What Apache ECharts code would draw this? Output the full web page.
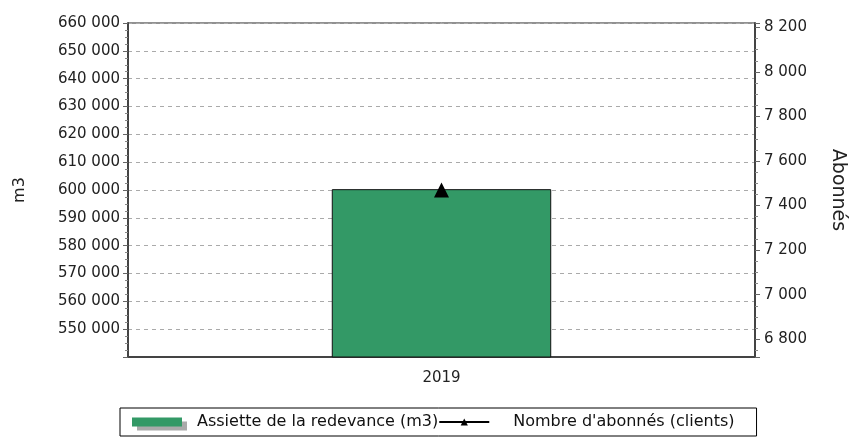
<!DOCTYPE html>
<html>
<head>
<meta charset="utf-8">
<script src="https://cdn.jsdelivr.net/npm/echarts@6/dist/echarts.min.js"></script>
<style>
  html, body { margin: 0; padding: 0; background: #fff; }
  #main { width: 850px; height: 441px; }
</style>
</head>
<body>
<div id="main"></div>
<script>
// data
const categories = ['2019'];
const assiette = [600300];   // m3, left axis
const abonnes = [7470];      // clients, right axis
const seriesNames = ['Assiette de la redevance (m3)', "Nombre d'abonnés (clients)"];

// spaced thousands, like "660 000"
function fmt(v) {
  return String(v).replace(/\B(?=(\d{3})+(?!\d))/g, ' ');
}

const font = 'DejaVu Sans';

echarts.init(document.getElementById('main')).setOption({
  animation: false,
  textStyle: { fontFamily: font },
  grid: {
    left: 128, right: 95, top: 23, bottom: 84,
    outerBoundsMode: 'none',
    containLabel: false,
    show: true, borderColor: '#222', borderWidth: 1
  },
  legend: {
    left: 120, top: 408,
    padding: [6, 22, 6, 12],
    itemGap: 0,
    itemWidth: 50, itemHeight: 9,
    backgroundColor: '#fff',
    borderColor: '#000', borderWidth: 1,
    textStyle: { fontFamily: font, fontSize: 16, color: '#111' },
    data: [
      {
        name: seriesNames[0], icon: 'rect',
        itemStyle: { borderWidth: 0, shadowColor: '#aaa', shadowOffsetX: 5, shadowOffsetY: 4, shadowBlur: 0 },
        textStyle: { padding: [0, 0, 0, 10] }
      },
      { name: seriesNames[1], textStyle: { padding: [0, 0, 0, 19] } }
    ]
  },
  xAxis: {
    type: 'category',
    data: categories,
    axisLine: { lineStyle: { color: '#444', width: 2 } },
    axisTick: { alignWithLabel: true, length: 4, lineStyle: { color: '#666' } },
    axisLabel: { fontSize: 15, color: '#222', margin: 14 }
  },
  yAxis: [
    {
      type: 'value',
      min: 540000, max: 660000, interval: 10000,
      name: 'm3', nameLocation: 'middle', nameGap: 100,
      nameTextStyle: { fontSize: 16, color: '#222' },
      axisLine: { show: true, lineStyle: { color: '#444', width: 2 } },
      axisTick: { show: true, length: 5, lineStyle: { color: '#666' } },
      minorTick: { show: true, splitNumber: 4, length: 3, lineStyle: { color: '#888' } },
      axisLabel: {
        fontSize: 15, color: '#222', margin: 8, showMinLabel: false,
        formatter: fmt
      },
      splitLine: { show: true, lineStyle: { color: '#aaa', type: [4, 4] } }
    },
    {
      type: 'value',
      min: 6720, max: 8220, splitNumber: 7,
      name: 'Abonnés', nameLocation: 'middle', nameGap: 73, nameRotate: -90,
      nameTextStyle: { fontSize: 19, color: '#222' },
      axisLine: { show: true, lineStyle: { color: '#444', width: 2 } },
      axisTick: { show: true, length: 5, lineStyle: { color: '#666' } },
      minorTick: { show: true, splitNumber: 4, length: 3, lineStyle: { color: '#888' } },
      axisLabel: {
        fontSize: 15, color: '#222', margin: 9,
        showMinLabel: false, showMaxLabel: false,
        formatter: fmt
      },
      splitLine: { show: false }
    }
  ],
  series: [
    {
      name: seriesNames[0],
      type: 'bar',
      data: assiette,
      barWidth: '35%',
      itemStyle: { color: '#339966', borderColor: '#111', borderWidth: 1 }
    },
    {
      name: seriesNames[1],
      type: 'line',
      yAxisIndex: 1,
      data: abonnes,
      symbol: 'triangle',
      symbolSize: [15, 15],
      itemStyle: { color: '#000' },
      lineStyle: { color: '#000', width: 1 }
    }
  ]
});
</script>
</body>
</html>
